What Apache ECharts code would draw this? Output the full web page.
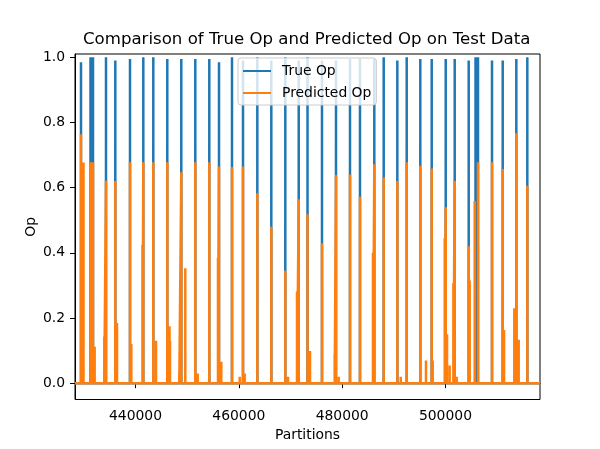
<!DOCTYPE html>
<html>
<head>
<meta charset="utf-8">
<script src="https://cdn.jsdelivr.net/npm/echarts@6/dist/echarts.min.js"></script>
<style>
  html, body { margin: 0; padding: 0; background: #fff; }
  #chart { width: 600px; height: 449px; }
</style>
</head>
<body>
<div id="chart"></div>
<script>
// ---- Data ----
const xMin = 428290;
const xMax = 518300;
const xTicks = [440000, 460000, 480000, 500000];
const yTicks = [0.0, 0.2, 0.4, 0.6, 0.8, 1.0];

// True Op spikes: positions (partitions) and heights
const trueX = [429450, 431290, 431774, 434290, 436090, 438935, 441510, 443445, 446155, 448865,
  451575, 454285, 456165, 458680, 460810, 463580, 466290, 469000, 471595, 473300,
  476100, 478810, 481520, 483455, 486225, 488045, 490680, 492500, 495130, 497340,
  500050, 501790, 504500, 505820, 506300, 509010, 511080, 513715, 515845];
const trueY = [0.985, 1.0, 1.0, 1.0, 0.99, 0.995, 1.0, 1.0, 0.995, 0.995,
  0.995, 0.995, 0.985, 1.0, 0.99, 1.0, 0.99, 1.0, 0.99, 1.0,
  0.99, 0.99, 0.995, 0.995, 0.995, 1.0, 0.99, 1.0, 0.995, 0.995,
  0.995, 0.995, 0.99, 1.0, 1.0, 0.99, 0.99, 0.995, 1.0];

// Predicted Op spikes
const predX = [429450, 429935, 431290, 431774, 432100, 433960, 434290, 436090, 436420, 438935,
  439190, 441350, 441510, 443445, 443970, 446155, 446580, 446680, 448480, 448865,
  449640, 451575, 452040, 454285, 455970, 456165, 456610, 458680, 460170, 460810,
  461140, 463580, 466290, 469000, 469520, 471265, 471595, 473300, 473780, 476100,
  478560, 478810, 479330, 481520, 483455, 485970, 486225, 488045, 490680, 491340,
  492500, 495130, 496230, 497340, 497530, 499860, 500050, 500300, 500810, 501530,
  501790, 502180, 504500, 504690, 505660, 506300, 509010, 511080, 511340, 513325,
  513715, 514180, 515845];
const predY = [0.764, 0.677, 0.678, 0.678, 0.112, 0.143, 0.621, 0.62, 0.185, 0.678,
  0.12, 0.424, 0.678, 0.678, 0.13, 0.678, 0.175, 0.13, 0.03, 0.647,
  0.353, 0.678, 0.03, 0.678, 0.384, 0.665, 0.066, 0.663, 0.02, 0.665,
  0.03, 0.583, 0.48, 0.345, 0.02, 0.281, 0.564, 0.518, 0.099, 0.429,
  0.09, 0.639, 0.02, 0.64, 0.572, 0.4, 0.672, 0.631, 0.62, 0.02,
  0.678, 0.667, 0.07, 0.659, 0.07, 0.445, 0.54, 0.15, 0.054, 0.307,
  0.62, 0.02, 0.42, 0.315, 0.559, 0.678, 0.678, 0.657, 0.163, 0.23,
  0.767, 0.133, 0.606];

// Build a zero baseline with spikes from the arrays
function buildSeries(xs, ys) {
  const pts = [[xMin, 0]];
  const idx = xs.map((x, i) => i).sort((a, b) => xs[a] - xs[b]);
  idx.forEach(i => {
    pts.push([xs[i] - 1, 0]);
    pts.push([xs[i], ys[i]]);
    pts.push([xs[i] + 1, 0]);
  });
  pts.push([xMax, 0]);
  return pts;
}

const FONT = 'DejaVu Sans';
const chart = echarts.init(document.getElementById('chart'), null, { renderer: 'canvas' });
chart.setOption({
  animation: false,
  backgroundColor: '#ffffff',
  textStyle: { fontFamily: FONT },
  title: {
    text: 'Comparison of True Op and Predicted Op on Test Data',
    left: 83,
    top: 31,
    padding: 0,
    textStyle: { fontFamily: FONT, fontSize: 16.6, fontWeight: 'normal', color: '#000' }
  },
  grid: {
    left: 75, right: 60, top: 54, bottom: 49.5,
    show: true, borderColor: '#000', borderWidth: 1, backgroundColor: 'transparent'
  },
  legend: {
    data: ['True Op', 'Predicted Op'],
    orient: 'vertical',
    left: 238, top: 58,
    icon: 'rect',
    itemWidth: 28, itemHeight: 2,
    itemGap: 8,
    padding: [6, 5, 5, 5],
    backgroundColor: 'rgba(255,255,255,0.8)',
    borderColor: '#cccccc', borderWidth: 1, borderRadius: 3,
    textStyle: { fontFamily: FONT, fontSize: 13.9, color: '#000', padding: [0, 0, 0, 6] }
  },
  xAxis: {
    type: 'value',
    min: xMin, max: xMax,
    name: 'Partitions',
    nameLocation: 'middle',
    nameGap: 29,
    nameMoveOverlap: false,
    nameTextStyle: { fontFamily: FONT, fontSize: 13.9, color: '#000' },
    splitLine: { show: false },
    axisLine: { show: true, lineStyle: { color: '#000', width: 1 } },
    axisTick: { show: true, length: 5, customValues: xTicks, lineStyle: { color: '#000' } },
    axisLabel: { customValues: xTicks, margin: 10, fontFamily: FONT, fontSize: 13.9, color: '#000',
      formatter: v => String(v) }
  },
  yAxis: {
    type: 'value',
    min: -0.05, max: 1.01,
    name: 'Op',
    nameLocation: 'middle',
    nameGap: 37,
    nameMoveOverlap: false,
    nameTextStyle: { fontFamily: FONT, fontSize: 13.9, color: '#000' },
    splitLine: { show: false },
    axisLine: { show: true, lineStyle: { color: '#000', width: 1 } },
    axisTick: { show: true, length: 5, customValues: yTicks, lineStyle: { color: '#000' } },
    axisLabel: { customValues: yTicks, margin: 10, fontFamily: FONT, fontSize: 13.9, color: '#000',
      formatter: v => v.toFixed(1) }
  },
  series: [
    {
      name: 'True Op', type: 'line', showSymbol: false, symbol: 'none',
      data: buildSeries(trueX, trueY),
      lineStyle: { color: '#1f77b4', width: 2.5 }, itemStyle: { color: '#1f77b4' }
    },
    {
      name: 'Predicted Op', type: 'line', showSymbol: false, symbol: 'none',
      data: buildSeries(predX, predY),
      lineStyle: { color: '#ff7f0e', width: 2.5 }, itemStyle: { color: '#ff7f0e' }
    }
  ]
});
</script>
</body>
</html>
